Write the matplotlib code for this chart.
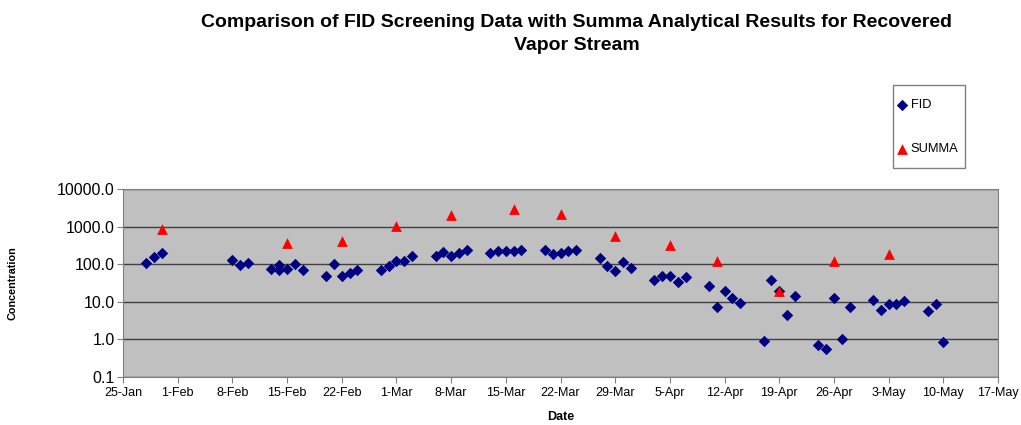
import numpy as np
import matplotlib
matplotlib.use("Agg")
import matplotlib.pyplot as plt
from matplotlib.patches import Rectangle
from matplotlib.ticker import FixedLocator, FuncFormatter
from datetime import datetime

YEAR = 2003

fid_dates = [
    "28-Jan", "29-Jan", "30-Jan",
    "8-Feb", "9-Feb", "10-Feb",
    "13-Feb", "14-Feb", "14-Feb", "15-Feb", "16-Feb", "17-Feb",
    "20-Feb", "21-Feb", "22-Feb", "23-Feb", "24-Feb",
    "27-Feb", "28-Feb", "1-Mar", "2-Mar", "3-Mar",
    "6-Mar", "7-Mar", "8-Mar", "9-Mar", "10-Mar",
    "13-Mar", "14-Mar", "15-Mar", "16-Mar", "17-Mar",
    "20-Mar", "21-Mar", "22-Mar", "23-Mar", "24-Mar",
    "27-Mar", "28-Mar", "29-Mar", "30-Mar", "31-Mar",
    "3-Apr", "4-Apr", "5-Apr", "6-Apr", "7-Apr",
    "10-Apr", "11-Apr", "12-Apr", "13-Apr", "14-Apr",
    "17-Apr", "18-Apr", "19-Apr", "20-Apr", "21-Apr",
    "24-Apr", "25-Apr", "26-Apr", "27-Apr", "28-Apr",
    "1-May", "2-May", "3-May", "4-May", "5-May",
    "8-May", "9-May", "10-May",
]
fid_values = [
    111, 156, 200,
    128, 96, 106,
    77, 69, 96, 75, 104, 72,
    50, 100, 49, 60, 72,
    72, 92, 120, 125, 166,
    164, 208, 164, 200, 245,
    200, 222, 225, 225, 245,
    245, 190, 200, 222, 245,
    150, 92, 66, 113, 82,
    39, 48, 48, 34, 46,
    26, 7.5, 19.5, 12.5, 9.6,
    0.88, 39, 19, 4.6, 14,
    0.69, 0.56, 12.3, 1.0, 7.1,
    11, 5.9, 8.5, 8.5, 10.5,
    5.8, 9.0, 0.86,
]

summa_dates = ["30-Jan", "15-Feb", "22-Feb", "1-Mar", "8-Mar", "16-Mar",
               "22-Mar", "29-Mar", "5-Apr", "11-Apr", "19-Apr", "26-Apr",
               "3-May"]
summa_values = [870, 378, 408, 1030, 2050, 2960,
                2140, 576, 334, 120, 19, 125,
                184]

x_ticks = ["25-Jan", "1-Feb", "8-Feb", "15-Feb", "22-Feb", "1-Mar", "8-Mar",
           "15-Mar", "22-Mar", "29-Mar", "5-Apr", "12-Apr", "19-Apr",
           "26-Apr", "3-May", "10-May", "17-May"]
y_ticks = [0.1, 1, 10, 100, 1000, 10000]


def to_date(s):
    return datetime.strptime(f"{s}-{YEAR}", "%d-%b-%Y")


fid_x = [to_date(d) for d in fid_dates]
summa_x = [to_date(d) for d in summa_dates]
tick_x = [to_date(d) for d in x_ticks]

plt.rcParams["font.family"] = ["Liberation Sans", "DejaVu Sans"]

W, H = 1021, 425
fig = plt.figure(figsize=(W / 100, H / 100), dpi=100)
ax = fig.add_axes([0.1205, 0.113, 0.857, 0.442])
ax.set_facecolor("#C0C0C0")

ax.scatter(fid_x, fid_values, marker="D", s=34, color="#000080",
           label="FID", zorder=3, linewidths=0)
ax.scatter(summa_x, summa_values, marker="^", s=60, color="#FF0000",
           label="SUMMA", zorder=3, linewidths=0)

ax.set_yscale("log")
ax.set_ylim(0.1, 10000)
ax.yaxis.set_major_locator(FixedLocator(y_ticks))
ax.yaxis.set_minor_locator(FixedLocator([]))
ax.yaxis.set_major_formatter(FuncFormatter(lambda v, p: f"{v:.1f}"))
ax.grid(axis="y", color="#404040", linewidth=1.0)
ax.set_axisbelow(True)

ax.set_xlim(tick_x[0], tick_x[-1])
ax.set_xticks(tick_x)
ax.set_xticklabels(x_ticks)

for side in ["top", "right", "left", "bottom"]:
    ax.spines[side].set_color("#808080")
ax.tick_params(axis="x", labelsize=9, color="#808080", length=4)
ax.tick_params(axis="y", labelsize=11.5, color="#808080", length=4,
               pad=2)

ax.set_xlabel("Date", fontsize=9, fontweight="bold")
ax.xaxis.set_label_coords(0.5, -0.183)
ax.set_ylabel("Concentration", fontsize=7.8, fontweight="bold")
ax.yaxis.set_label_coords(-0.121, 0.5)

fig.text(0.5647, 0.92,
         "Comparison of FID Screening Data with Summa Analytical Results for Recovered\nVapor Stream",
         ha="center", va="center", fontsize=14, fontweight="bold",
         linespacing=1.45)

# legend box drawn separately (Excel style: tall box, tight sides)
fig.patches.append(Rectangle((893 / W, 1 - 168 / H), 72 / W, 83 / H,
                             transform=fig.transFigure, fill=True,
                             facecolor="white", edgecolor="#808080",
                             linewidth=1.0, zorder=1))
leg = fig.legend(loc="upper left", bbox_to_anchor=(896 / W, 1 - 99 / H),
                 frameon=False, fontsize=9.3,
                 handletextpad=0.15, borderpad=0, labelspacing=2.5,
                 handlelength=1.0, borderaxespad=0)

fig.savefig("out.png", dpi=100)
